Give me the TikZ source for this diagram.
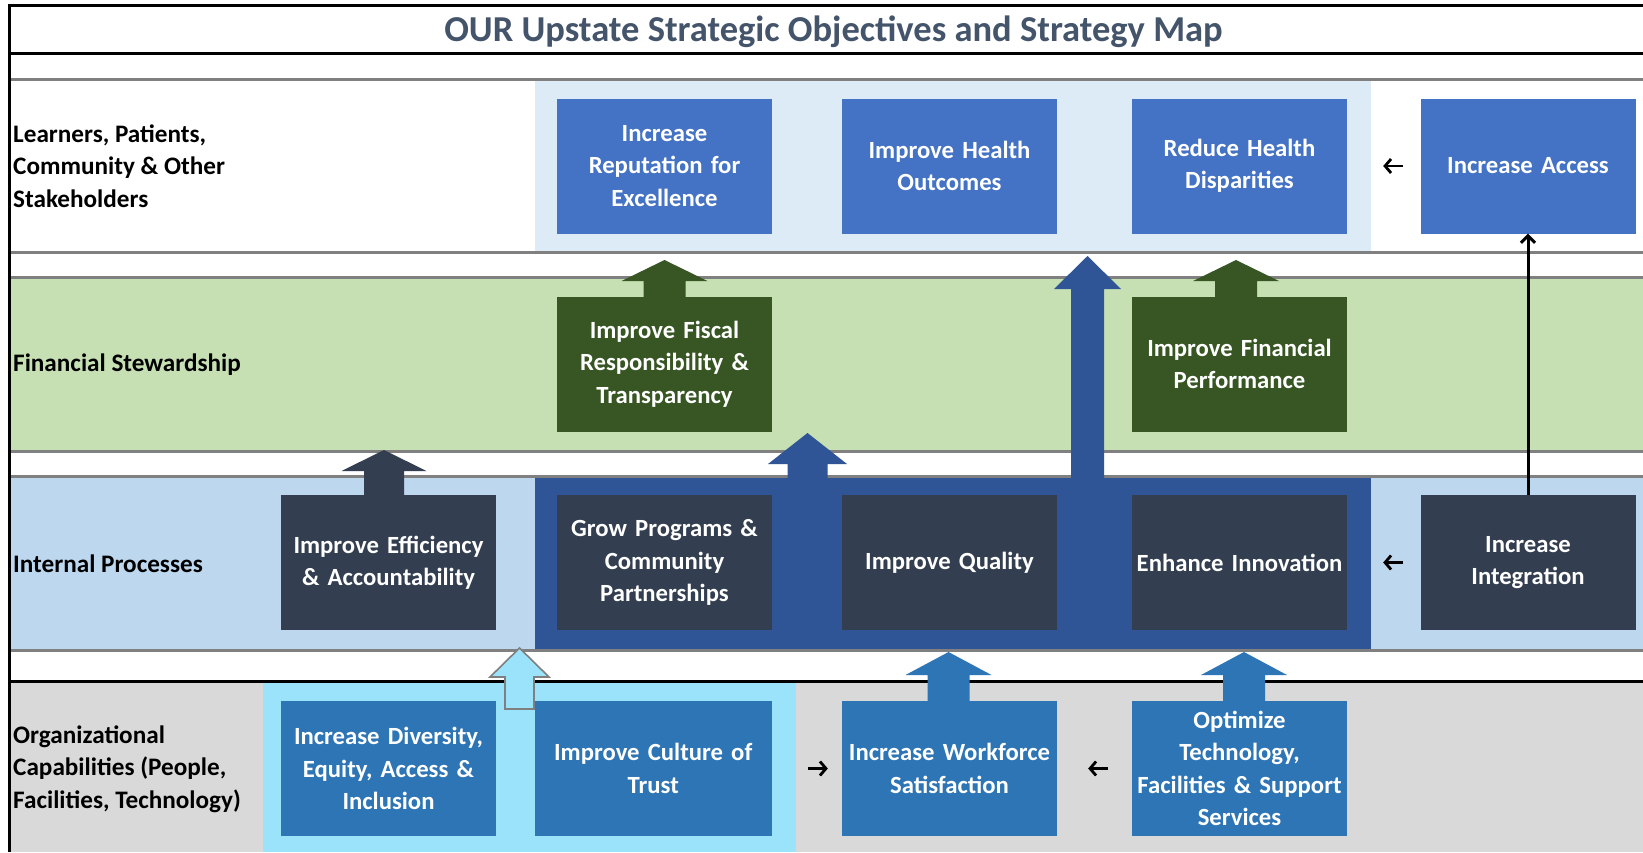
\documentclass[tikz,border=0pt]{standalone}
\usepackage{fontspec}
\setmainfont{Carlito}
\usetikzlibrary{arrows.meta}
\definecolor{titlec}{HTML}{44546A}
\definecolor{rowone}{HTML}{DDEBF7}
\definecolor{fingreen}{HTML}{C6E0B4}
\definecolor{intblue}{HTML}{BDD7EE}
\definecolor{darkreg}{HTML}{2F5597}
\definecolor{orggray}{HTML}{D9D9D9}
\definecolor{cyanreg}{HTML}{9BE3FA}
\definecolor{stakec}{HTML}{4472C4}
\definecolor{finc}{HTML}{375623}
\definecolor{intc}{HTML}{333F50}
\definecolor{orgc}{HTML}{2E75B6}
\definecolor{linegray}{HTML}{808080}
\definecolor{arrgray}{HTML}{7F7F7F}
\newcommand\blockup[7]{%
  \path[#1] (#2-#6,#3) -- (#2-#6,#4) -- (#2-#7,#4) -- (#2,#5) -- (#2+#7,#4) -- (#2+#6,#4) -- (#2+#6,#3) -- cycle;}
\begin{document}
\begin{tikzpicture}[x=1pt,y=-1pt,
  grayline/.style={draw=linegray,line width=3pt},
  blackline/.style={draw=black,line width=3pt},
  objbox/.style={minimum width=215pt,minimum height=135pt,inner sep=0pt,text width=209pt,align=center,
    font=\fontsize{24.7}{32.5}\selectfont\bfseries,text=white},
  stakebox/.style={objbox,fill=stakec},
  finbox/.style={objbox,fill=finc},
  intbox/.style={objbox,fill=intc},
  orgbox/.style={objbox,fill=orgc},
  rowlabel/.style={anchor=west,inner sep=0pt,align=left,font=\fontsize{25.2}{32.5}\selectfont\bfseries,text=black},
  smallarr/.style={draw=black,line width=2.8pt,-{Straight Barb[length=6pt,width=14pt]}},
  vline/.style={draw=black,line width=3pt,-{Straight Barb[length=7pt,width=14pt]}}
]
\useasboundingbox (0,0) rectangle (1643,852);
\fill[white] (0,0) rectangle (1643,852);
% row backgrounds
\fill[rowone] (534.5,79) rectangle (1371,252);
\fill[fingreen] (10,277) rectangle (1643,451);
\fill[intblue] (10,476) rectangle (1643,650);
\fill[darkreg] (534.5,476) rectangle (1371,650);
\fill[orggray] (10,681) rectangle (1643,852);
\fill[cyanreg] (263,681) rectangle (795.5,852);
% row lines
\draw[grayline] (10,79) -- (1643,79);
\draw[grayline] (10,252) -- (1643,252);
\draw[grayline] (10,277) -- (1643,277);
\draw[grayline] (10,451) -- (1643,451);
\draw[grayline] (10,476) -- (1643,476);
\draw[grayline] (10,650) -- (1643,650);
\draw[blackline] (8,5.5) -- (1643,5.5);
\draw[blackline] (8,53.5) -- (1643,53.5);
\draw[blackline] (8,681) -- (1643,681);
\draw[blackline] (9.5,4) -- (9.5,852);
% title
\node[font=\fontsize{36.5}{40}\selectfont\bfseries,text=titlec,inner sep=0pt] (title) at (833.5,32) {OUR Upstate Strategic Objectives and Strategy Map};
% row labels
\node[rowlabel] (lab1) at (13,166) {Learners, Patients,\\Community \& Other\\Stakeholders};
\node[rowlabel] (lab2) at (13,364.5) {Financial Stewardship};
\node[rowlabel] (lab3) at (13,563.5) {Internal Processes};
\node[rowlabel] (lab4) at (13,769) {Organizational\\Capabilities (People,\\Facilities, Technology)};
% block arrows
\blockup{fill=finc}{664.5}{297}{281}{260}{21}{43}
\blockup{fill=finc}{1236}{297}{281}{260}{21}{43}
\blockup{fill=intc}{384}{496}{471}{450}{20}{42.5}
\blockup{fill=darkreg}{807.5}{478}{464}{433}{20}{39.5}
\blockup{fill=darkreg}{1087.5}{478}{289}{256}{16.5}{33.5}
\blockup{fill=cyanreg,draw=arrgray,line width=1.6pt}{519.5}{709}{677}{648}{14.5}{29.5}
\blockup{fill=orgc}{948.5}{702}{675}{652}{21}{43}
\blockup{fill=orgc}{1244}{702}{675}{652}{21}{43}
% row 1
\node[stakebox] (rep) at (664.5,166) {Increase\\Reputation for\\Excellence};
\node[stakebox] (outc) at (949.5,166) {Improve Health\\Outcomes};
\node[stakebox] (disp) at (1239.5,166) {Reduce Health\\Disparities};
\node[stakebox] (access) at (1528,166) {Increase Access};
% row 2
\node[finbox] (fiscal) at (664.5,364) {Improve Fiscal\\Responsibility \&\\Transparency};
\node[finbox] (finperf) at (1239.5,364) {Improve Financial\\Performance};
% row 3
\node[intbox] (effic) at (388.5,562.5) {Improve Efficiency\\\& Accountability};
\node[intbox] (grow) at (664.5,562.5) {Grow Programs \&\\Community\\Partnerships};
\node[intbox] (qual) at (949.5,562.5) {Improve Quality};
\node[intbox] (innov) at (1239.5,562.5) {Enhance Innovation};
\node[intbox] (integ) at (1528,562.5) {Increase\\Integration};
% row 4
\node[orgbox] (div) at (388.5,768.5) {Increase Diversity,\\Equity, Access \&\\Inclusion};
\node[orgbox,minimum width=237.5pt,text width=230pt] (trust) at (653.25,768.5) {Improve Culture of\\Trust};
\node[orgbox] (work) at (949.5,768.5) {Increase Workforce\\Satisfaction};
\node[orgbox] (optim) at (1239.5,768.5) {Optimize\\Technology,\\Facilities \& Support\\Services};
% small connectors
\draw[smallarr,shorten <=17pt,shorten >=36pt] (access.west) -- (disp.east);
\draw[smallarr,shorten <=17pt,shorten >=36pt] (integ.west) -- (innov.east);
\draw[smallarr,shorten <=36pt,shorten >=14pt] (trust.east) -- (work.west);
\draw[smallarr,shorten <=24pt,shorten >=31pt] (optim.west) -- (work.east);
\draw[vline] (integ.north) -- (access.south);
\end{tikzpicture}
\end{document}
